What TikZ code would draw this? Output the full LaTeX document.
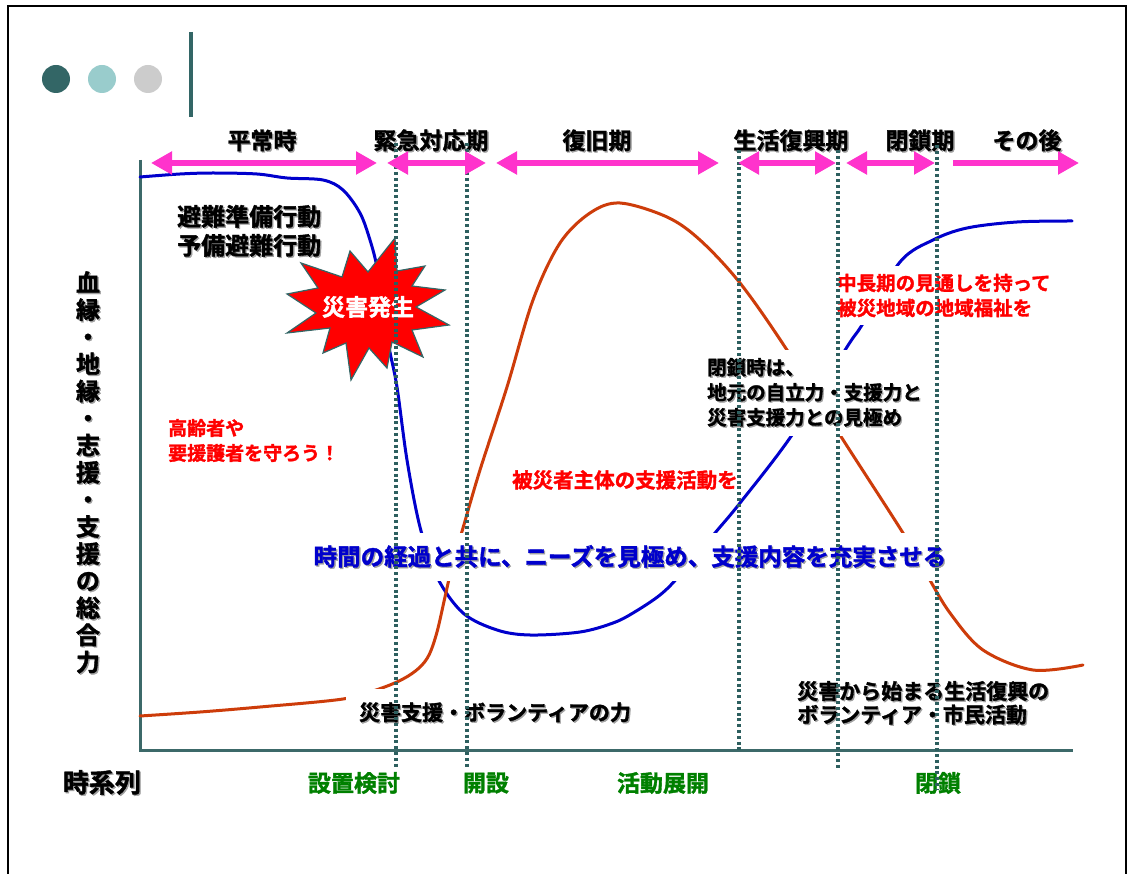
\documentclass[tikz,border=0pt]{standalone}
\usepackage{fontspec}
\setmainfont{Noto Sans CJK JP}[BoldFont={Noto Sans CJK JP Bold}, BoldFeatures={FakeBold=1.6}]
\usetikzlibrary{arrows.meta}
\definecolor{tealA}{RGB}{51,102,102}
\definecolor{tealB}{RGB}{153,204,204}
\definecolor{grayC}{RGB}{204,204,204}
\definecolor{axisc}{RGB}{60,105,105}
\definecolor{dotc}{RGB}{45,95,95}
\definecolor{pinkc}{RGB}{255,51,204}
\definecolor{bluec}{RGB}{0,0,204}
\definecolor{orangec}{RGB}{205,60,10}
\definecolor{redc}{RGB}{255,0,0}
\definecolor{greenc}{RGB}{0,128,0}
\definecolor{shadowc}{RGB}{160,160,160}
\newcommand\shd[1]{\leavevmode\rlap{\kern1.3pt\raisebox{-1.3pt}{\textcolor{shadowc}{#1}}}#1}
\tikzset{
  hdr/.style={font=\bfseries\fontsize{23}{27}\selectfont, inner sep=0pt},
  txt/.style={align=left, anchor=west, inner xsep=10pt, inner ysep=8pt},
  wbox/.style={fill=white},
  dotl/.style={dotc, line width=3.5pt, dash pattern=on 3pt off 2.8pt},
  dblarrow/.style={pinkc, line width=6.5pt, arrows={Triangle[length=21pt,width=22pt]-Triangle[length=21pt,width=22pt]}},
  sglarrow/.style={pinkc, line width=6.5pt, arrows={-Triangle[length=21pt,width=22pt]}},
  curve/.style={line width=3pt, line join=round, line cap=round},
  greenlbl/.style={font=\bfseries\fontsize{23}{27}\selectfont, text=greenc, inner sep=0pt}
}
\begin{document}
\begin{tikzpicture}[x=1pt,y=-1pt]
\useasboundingbox (0,0) rectangle (1128,874);
\fill[white] (0,0) rectangle (1128,874);
% frame
\draw[black, line width=2.5pt] (8,874) -- (8,6) -- (1126,6) -- (1126,874);
% title decoration
\fill[tealA] (56,79) circle (14pt);
\fill[tealB] (102,79) circle (14pt);
\fill[grayC] (148,79) circle (14pt);
\draw[tealA, line width=4pt] (190.5,32) -- (190.5,117);
% axes
\draw[axisc, line width=3pt] (140,160) -- (140,750) -- (1073,750);
% curves
\draw[curve, bluec] plot[smooth, tension=0.55] coordinates {
 (140,177) (180,174) (213,173) (257,174) (287,178) (323,180) (343,190) (360,213)
 (370,240) (377,267) (383,305) (389,347) (397,387) (407,460) (420,527) (437,577)
 (463,613) (497,630) (530,635) (580,632) (613,623) (633,613) (660,595) (680,575)
 (715,533) (740,503) (792,435) (847,347) (862,325) (900,262) (933,240) (967,228)
 (1017,222) (1072,221)};
\draw[curve, orangec] plot[smooth, tension=0.55] coordinates {
 (140,716) (200,712) (260,707) (343,699) (379,689) (403,679) (419,668) (429,655)
 (437,632) (445,597) (453,562) (463,528) (480,470) (507,387) (533,300) (560,243) (590,213)
 (620,203) (667,217) (700,240) (740,283) (785,347) (840,435) (903,533) (927,575)
 (950,613) (983,650) (1033,670) (1083,665)};
% y axis label
\node[font=\bfseries\fontsize{24}{27.1}\selectfont, align=center, inner sep=0pt] (ylabel) at (88,473)
 {\shd{血}\\\shd{縁}\\\shd{・}\\\shd{地}\\\shd{縁}\\\shd{・}\\\shd{志}\\\shd{援}\\\shd{・}\\\shd{支}\\\shd{援}\\\shd{の}\\\shd{総}\\\shd{合}\\\shd{力}};
% text blocks
\node[txt, font=\bfseries\fontsize{24}{29}\selectfont] (hinan) at (167,231.5)
 {\shd{避難準備行動}\\\shd{予備避難行動}};
\node[txt, font=\bfseries\fontsize{19}{25}\selectfont, text=redc] (korei) at (158,440.5)
 {高齢者や\\要援護者を守ろう！};
\node[txt, font=\bfseries\fontsize{20.5}{25}\selectfont, text=redc] (hisai) at (502,480)
 {被災者主体の支援活動を};
\node[txt, wbox, font=\bfseries\fontsize{19.5}{25}\selectfont, text=redc] (chucho) at (827,295.5)
 {中長期の見通しを持って\\被災地域の地域福祉を};
\node[txt, wbox, font=\bfseries\fontsize{19.5}{25}\selectfont] (heisaji) at (697,393)
 {\shd{閉鎖時は、}\\\shd{地元の自立力・支援力と}\\\shd{災害支援力との見極め}};
\node[wbox, font=\bfseries\fontsize{23.5}{28}\selectfont, text=bluec, inner xsep=12pt, inner ysep=12pt] (jikan) at (630,557)
 {\shd{時間の経過と共に、ニーズを見極め、支援内容を充実させる}};
\node[wbox, font=\bfseries\fontsize{21}{25}\selectfont, inner sep=13pt] (volpow) at (495,713)
 {\shd{災害支援・ボランティアの力}};
\node[txt, font=\bfseries\fontsize{21}{23.5}\selectfont] (seikatsu) at (787,703.5)
 {\shd{災害から始まる生活復興の}\\\shd{ボランティア・市民活動}};
\node[font=\bfseries\fontsize{26}{30}\selectfont, inner sep=0pt] (jikeiretsu) at (102,783) {\shd{時系列}};
% star
\filldraw[fill=red, draw=tealA, line width=1.2pt]
 (395,238) -- (397,271) -- (425,266) -- (412,286) -- (445,290) -- (416,307) --
 (449,325) -- (412,330) -- (423,357) -- (392,342) -- (387,368) -- (369,348) --
 (351,380) -- (346,343) -- (323,353) -- (330,328) -- (287,333) -- (316,313) --
 (287,294) -- (318,288) -- (301,263) -- (342,277) -- (350,251) -- (368,272) -- cycle;
\node[font=\bfseries\fontsize{23}{27}\selectfont, text=white, inner sep=0pt] (star) at (368,307) {災害発生};
% header labels
\node[hdr] (h1) at (262,141) {\shd{平常時}};
\node[hdr] (h2) at (431,141) {\shd{緊急対応期}};
\node[hdr] (h3) at (597,141) {\shd{復旧期}};
\node[hdr] (h4) at (791,141) {\shd{生活復興期}};
\node[hdr] (h5) at (920,141) {\shd{閉鎖期}};
\node[hdr] (h6) at (1027,141) {\shd{その後}};
% green labels
\node[greenlbl] (g1) at (354,783) {設置検討};
\node[greenlbl] (g2) at (486,783) {開設};
\node[greenlbl] (g3) at (663,783) {活動展開};
\node[greenlbl] (g4) at (938,783) {閉鎖};
% dotted lines
\draw[dotl] (396,143) -- (396,768);
\draw[dotl] (467,143) -- (467,768);
\draw[dotl] (739,150) -- (739,750);
\draw[dotl] (838,150) -- (838,768);
\draw[dotl] (937,145) -- (937,790);
% period arrows
\draw[dblarrow] (151,163) -- (377,163);
\draw[dblarrow] (387,163) -- (486,163);
\draw[dblarrow] (496,163) -- (719,163);
\draw[dblarrow] (738,163) -- (836,163);
\draw[dblarrow] (846,163) -- (935,163);
\draw[sglarrow] (953,163) -- (1079,163);
\end{tikzpicture}
\end{document}
